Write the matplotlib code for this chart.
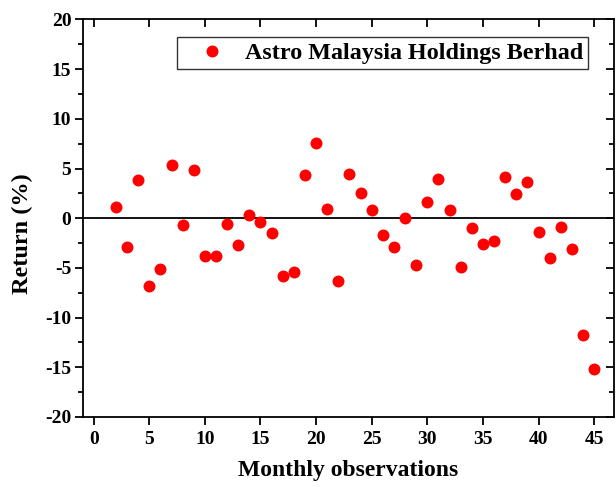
import numpy as np
import matplotlib
matplotlib.use("Agg")
from matplotlib import pyplot as plt
from matplotlib.ticker import MultipleLocator

# monthly returns (%)
months = np.arange(2, 46)
returns = [
    1.1, -2.9, 3.8, -6.8, -5.1, 5.4, -0.7, 4.8, -3.8, -3.8,
    -0.6, -2.7, 0.3, -0.4, -1.5, -5.8, -5.4, 4.3, 7.6, 0.9,
    -6.3, 4.4, 2.5, 0.8, -1.7, -2.9, 0.0, -4.7, 1.6, 3.9,
    0.8, -4.9, -1.0, -2.6, -2.3, 4.1, 2.4, 3.6, -1.4, -4.0,
    -0.9, -3.1, -11.8, -15.2,
]
label = "Astro Malaysia Holdings Berhad"

plt.rcParams["font.family"] = ["Liberation Serif", "DejaVu Serif"]
plt.rcParams["font.weight"] = "bold"
plt.rcParams["axes.unicode_minus"] = False

fig = plt.figure(figsize=(6.16, 4.87), dpi=100)
ax = fig.add_axes([0.134, 0.144, 0.863, 0.816])

ax.plot(months, returns, "o", color="red", markersize=8.6, markeredgewidth=0,
        label=label)
ax.axhline(0, color="black", lw=1.3, zorder=1)

ax.set_xlim(-1, 46.8)
ax.set_ylim(-20, 20)
ax.xaxis.set_major_locator(MultipleLocator(5))
ax.yaxis.set_major_locator(MultipleLocator(5))
ax.yaxis.set_minor_locator(MultipleLocator(2.5))

ax.tick_params(axis="x", which="major", direction="out", length=6, width=1.3,
               labelsize=14, top=True, pad=4)
ax.tick_params(axis="y", which="major", direction="out", length=6, width=1.3,
               labelsize=14, right=True, pad=2)
ax.tick_params(axis="y", which="minor", direction="out", length=3.5, width=1.3,
               right=True)
# mirrored ticks on top/right point inward
for t in ax.xaxis.get_major_ticks():
    t.tick2line.set_marker(matplotlib.lines.TICKDOWN)
for t in ax.yaxis.get_major_ticks() + ax.yaxis.get_minor_ticks():
    t.tick2line.set_marker(matplotlib.lines.TICKLEFT)

for s in ax.spines.values():
    s.set_linewidth(1.3)

ax.set_xlabel("Monthly observations", fontsize=17, fontweight="bold", labelpad=9)
ax.set_ylabel("Return (%)", fontsize=17.5, fontweight="bold")
ax.yaxis.set_label_coords(-0.093, 0.46)

leg = ax.legend(loc="upper right", bbox_to_anchor=(0.951, 0.955), fontsize=17.4,
                frameon=True, fancybox=False, edgecolor="black", borderaxespad=0,
                handletextpad=0.1, borderpad=0.2, handlelength=2.5)
leg.get_frame().set_linewidth(1.0)
for t in leg.get_texts():
    t.set_fontweight("bold")

fig.savefig("out.png", dpi=100)
